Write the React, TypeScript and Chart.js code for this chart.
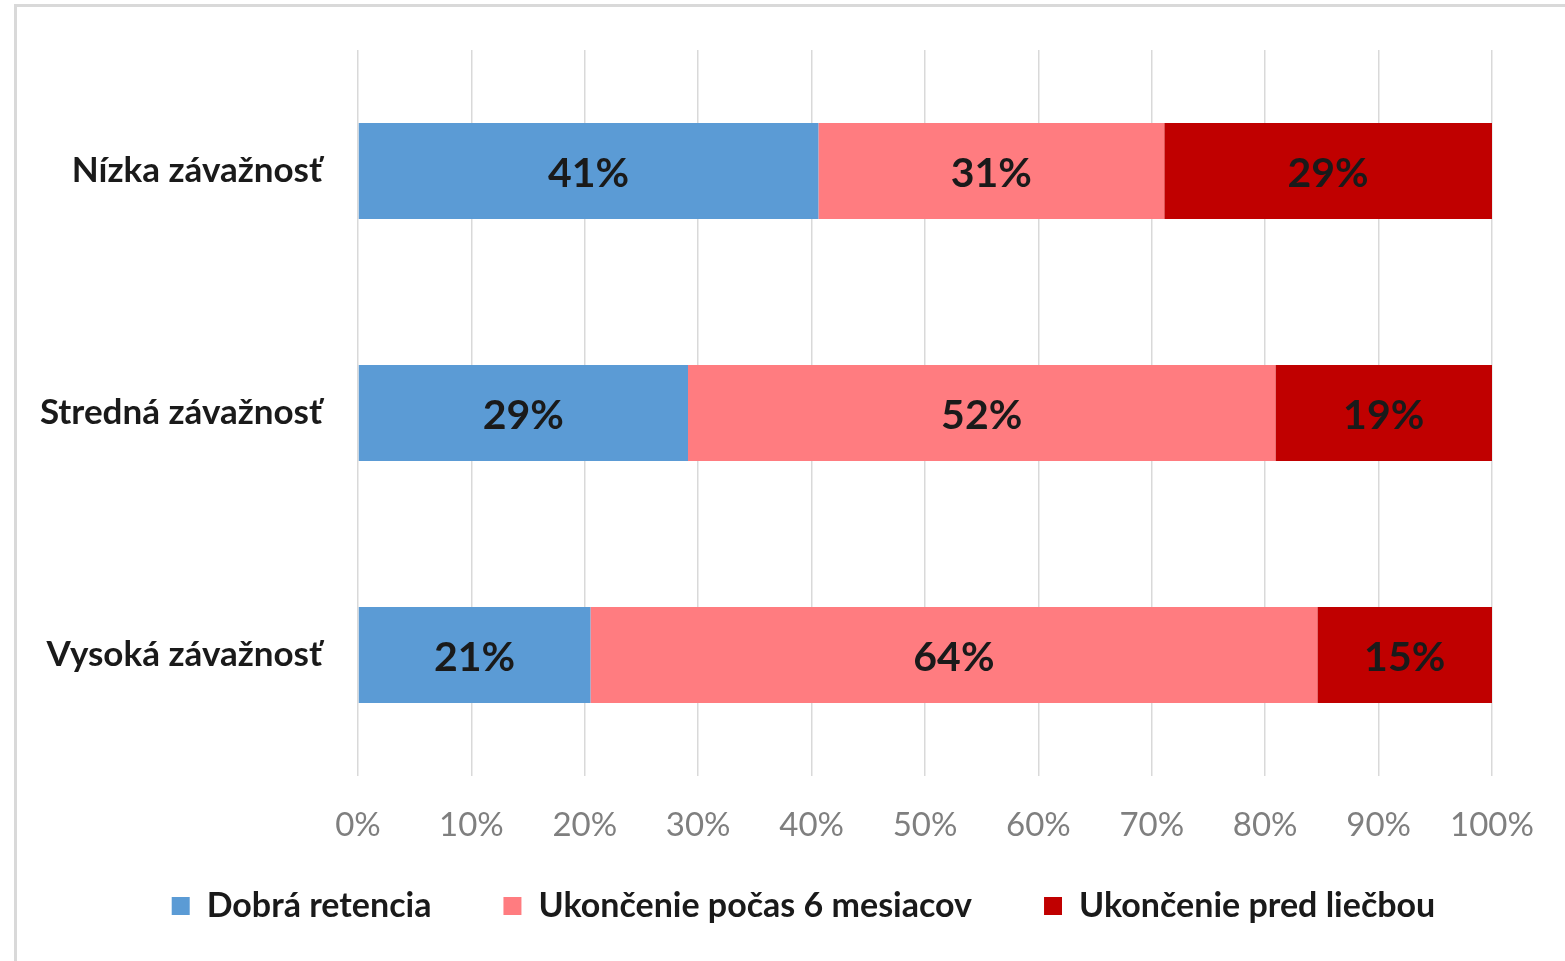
import React, { useEffect, useRef } from "react";
import { Chart, registerables } from "chart.js";

Chart.register(...registerables);

const categories = ["Nízka závažnosť", "Stredná závažnosť", "Vysoká závažnosť"];
const seriesNames = ["Dobrá retencia", "Ukončenie počas 6 mesiacov", "Ukončenie pred liečbou"];
const goodRetention = [40.6, 29.1, 20.5];
const quitWithin6Months = [30.5, 51.8, 64.1];
const quitBeforeTreatment = [28.9, 19.1, 15.4];
const xTickValues = [0, 10, 20, 30, 40, 50, 60, 70, 80, 90, 100];

const FONT = "Lato, 'Noto Sans', sans-serif";

const dataLabelPlugin = {
  id: "segmentLabels",
  afterDatasetsDraw(chart: any) {
    const ctx = chart.ctx;
    ctx.save();
    ctx.font = `bold 41px ${FONT}`;
    ctx.fillStyle = "#1a1a1a";
    ctx.textAlign = "center";
    ctx.textBaseline = "middle";
    chart.data.datasets.forEach((ds: any, i: number) => {
      const meta = chart.getDatasetMeta(i);
      meta.data.forEach((el: any, j: number) => {
        const v = ds.data[j];
        const p = el.getCenterPoint();
        ctx.fillText(Math.round(v) + "%", p.x, p.y + 3);
      });
    });
    ctx.restore();
  },
};

// place the legend: centred like the original and at its height
const legendPlacePlugin = {
  id: "legendPlace",
  afterLayout(chart: any) {
    const lg = chart.legend;
    if (!lg) return;
    const h = lg.bottom - lg.top;
    lg.left = 85;
    lg.right = 1522;
    lg.top = 817;
    lg.bottom = 817 + h;
  },
};

export default function App() {
  const ref = useRef<HTMLCanvasElement | null>(null);

  useEffect(() => {
    if (!ref.current) return;
    const chart = new Chart(ref.current, {
      type: "bar",
      data: {
        labels: categories,
        datasets: [
          { label: seriesNames[0], data: goodRetention, backgroundColor: "#5B9BD5" },
          { label: seriesNames[1], data: quitWithin6Months, backgroundColor: "#FF7C80" },
          { label: seriesNames[2], data: quitBeforeTreatment, backgroundColor: "#C00000" },
        ],
      },
      options: {
        indexAxis: "y",
        responsive: false,
        animation: false,
        events: [],
        datasets: {
          bar: { categoryPercentage: 1, barPercentage: 0.397, borderWidth: 0 },
        },
        layout: { padding: { left: 20, right: 73, top: 50, bottom: 0 } },
        scales: {
          x: {
            stacked: true,
            min: 0,
            max: 100,
            afterBuildTicks: (scale: any) => {
              scale.ticks = xTickValues.map((v) => ({ value: v }));
            },
            afterFit: (scale: any) => {
              scale.height = 69;
            },
            grid: { color: "#d9d9d9", lineWidth: 1.5, drawTicks: false },
            border: { display: false },
            ticks: {
              padding: 30,
              maxRotation: 0,
              color: "#7f7f7f",
              font: { family: FONT, size: 33 },
              callback: (v: any) => v + "%",
            },
          },
          y: {
            stacked: true,
            afterFit: (scale: any) => {
              scale.width = 338;
              scale.paddingTop = 0;
              scale.paddingBottom = 0;
            },
            grid: { display: false, drawTicks: false },
            border: { display: false },
            ticks: {
              padding: 36,
              color: "#1a1a1a",
              font: { family: FONT, size: 35, weight: "bold" },
            },
          },
        },
        plugins: {
          legend: {
            position: "bottom",
            labels: {
              boxWidth: 18,
              boxHeight: 18,
              padding: 72,
              color: "#1a1a1a",
              font: { family: FONT, size: 34, weight: "bold" },
            },
          },
          tooltip: { enabled: false },
        },
      },
      plugins: [dataLabelPlugin, legendPlacePlugin],
    } as any);
    return () => chart.destroy();
  }, []);

  return (
    <div style={{ position: "fixed", left: 0, top: 0, width: 1565, height: 961, background: "#fff", overflow: "hidden" }}>
      <div
        style={{
          position: "absolute",
          left: 14,
          top: 4,
          width: 1700,
          height: 1100,
          borderTop: "3px solid #d9d9d9",
          borderLeft: "3px solid #d9d9d9",
        }}
      />
      <canvas ref={ref} width={1565} height={961} style={{ position: "absolute", left: 0, top: 0 }} />
    </div>
  );
}
